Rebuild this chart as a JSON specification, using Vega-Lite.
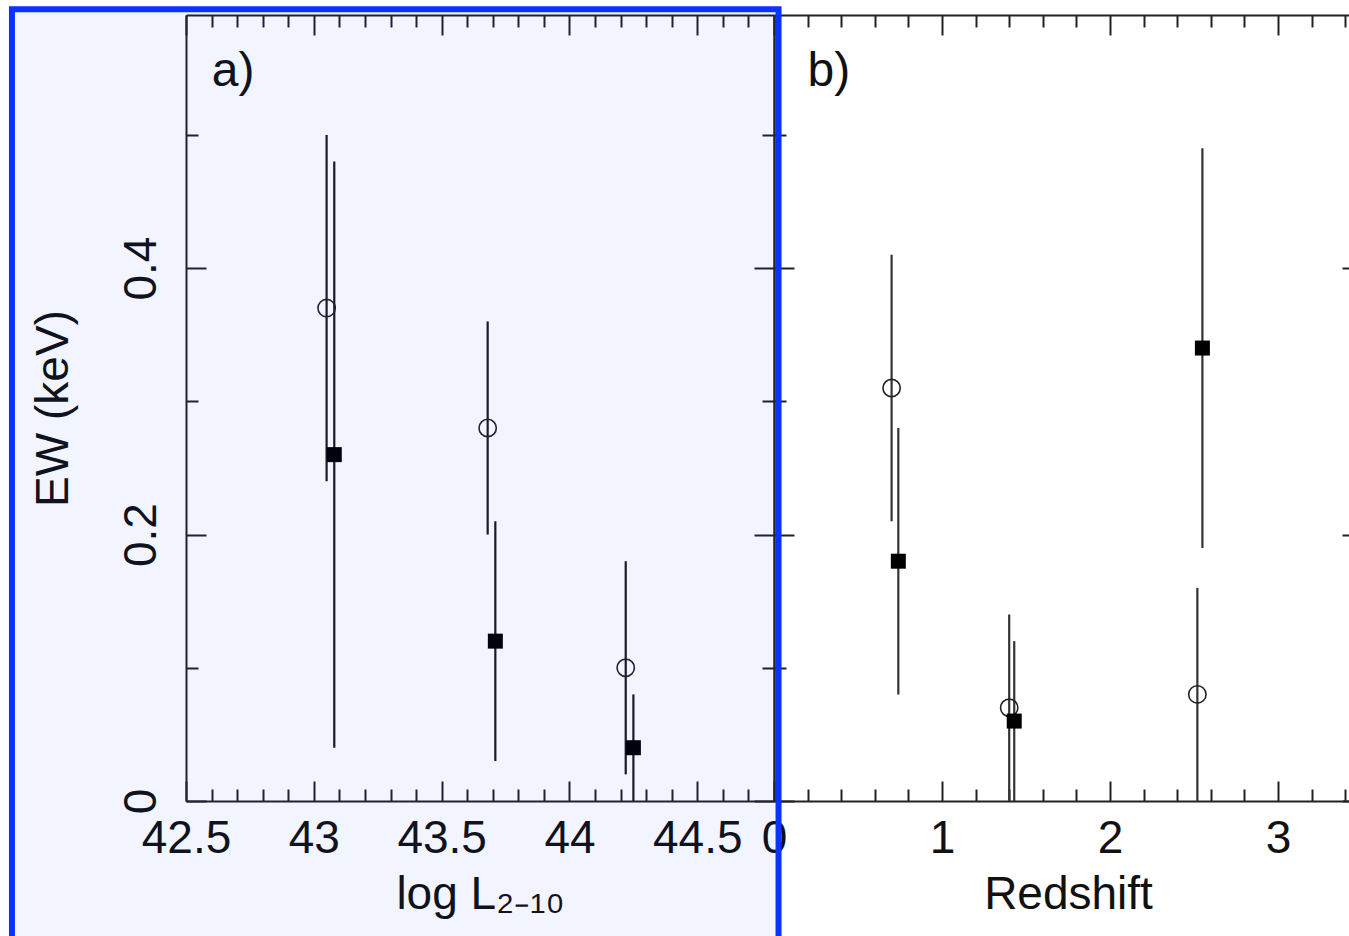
{
  "$schema": "https://vega.github.io/schema/vega-lite/v6.json",
  "padding": {"left": 8, "top": 6, "right": 0, "bottom": 0},
  "background": "white",
  "spacing": 0,
  "bounds": "flush",
  "datasets": {
    "lum": [
      {"logL": 43.05, "ew": 0.37, "lo": 0.24, "hi": 0.50, "type": "open"},
      {"logL": 43.08, "ew": 0.26, "lo": 0.04, "hi": 0.48, "type": "filled"},
      {"logL": 43.68, "ew": 0.28, "lo": 0.20, "hi": 0.36, "type": "open"},
      {"logL": 43.71, "ew": 0.12, "lo": 0.03, "hi": 0.21, "type": "filled"},
      {"logL": 44.22, "ew": 0.10, "lo": 0.02, "hi": 0.18, "type": "open"},
      {"logL": 44.25, "ew": 0.04, "lo": 0.0, "hi": 0.08, "type": "filled"}
    ],
    "red": [
      {"z": 0.70, "ew": 0.31, "lo": 0.21, "hi": 0.41, "type": "open"},
      {"z": 0.74, "ew": 0.18, "lo": 0.08, "hi": 0.28, "type": "filled"},
      {"z": 1.40, "ew": 0.07, "lo": 0.0, "hi": 0.14, "type": "open"},
      {"z": 1.43, "ew": 0.06, "lo": 0.0, "hi": 0.12, "type": "filled"},
      {"z": 2.52, "ew": 0.08, "lo": 0.0, "hi": 0.16, "type": "open"},
      {"z": 2.55, "ew": 0.34, "lo": 0.19, "hi": 0.49, "type": "filled"}
    ],
    "labelA": [{"x": 42.684, "y": 0.537, "label": "a)"}],
    "labelB": [{"x": 0.327, "y": 0.537, "label": "b)"}],
    "box": [{"x0": -4.536, "x1": 0.027, "y0": -0.12, "y1": 0.5944}]
  },
  "config": {
    "view": {"stroke": null},
    "axis": {
      "grid": false,
      "domainColor": "#222222",
      "domainWidth": 2,
      "tickColor": "#222222",
      "tickWidth": 2,
      "labelFont": "Liberation Sans",
      "labelFontSize": 46,
      "labelColor": "#111111",
      "labelFlush": false,
      "labelOverlap": false,
      "titleFont": "Liberation Sans",
      "titleFontSize": 46,
      "titleFontWeight": "normal",
      "titleColor": "#111111"
    }
  },
  "hconcat": [
    {
      "width": 588,
      "height": 786,
      "resolve": {"axis": {"x": "independent", "y": "independent"}},
      "layer": [
        {
          "data": {"name": "lum"},
          "mark": {"type": "rule", "color": "#1a1a1a", "strokeWidth": 2.2},
          "encoding": {
            "x": {
              "field": "logL", "type": "quantitative",
              "scale": {"domain": [42.5, 44.8], "nice": false, "zero": false},
              "axis": {
                "orient": "bottom",
                "values": [42.5, 42.6, 42.7, 42.8, 42.9, 43.0, 43.1, 43.2, 43.3, 43.4, 43.5, 43.6, 43.7, 43.8, 43.9, 44.0, 44.1, 44.2, 44.3, 44.4, 44.5, 44.6, 44.7],
                "labelExpr": "abs(datum.value*2 - round(datum.value*2)) < 0.001 ? format(datum.value, '~g') : ''",
                "tickSize": {"condition": {"test": "abs(datum.value*2 - round(datum.value*2)) < 0.001", "value": -20}, "value": -12},
                "labelAlign": "center",
                "labelBaseline": "alphabetic",
                "labelPadding": 71,
                "title": "log L₂₋₁₀",
                "titlePadding": 3
              }
            },
            "y": {
              "field": "lo", "type": "quantitative",
              "scale": {"domain": [0, 0.59], "nice": false, "zero": false},
              "axis": {
                "orient": "left",
                "values": [0, 0.1, 0.2, 0.3, 0.4, 0.5],
                "labelExpr": "abs(datum.value*5 - round(datum.value*5)) < 0.001 ? format(datum.value, '~g') : ''",
                "tickSize": {"condition": {"test": "abs(datum.value*5 - round(datum.value*5)) < 0.001", "value": -20}, "value": -12},
                "labelAngle": 270,
                "labelAlign": "center",
                "labelBaseline": "alphabetic",
                "labelPadding": 51,
                "title": "EW (keV)",
                "titlePadding": 33
              }
            },
            "y2": {"field": "hi"}
          }
        },
        {
          "data": {"name": "lum"},
          "transform": [{"filter": "datum.type === 'open'"}],
          "mark": {"type": "point", "shape": "circle", "filled": false, "size": 300, "stroke": "#222222", "strokeWidth": 1.6, "opacity": 1},
          "encoding": {
            "x": {
              "field": "logL", "type": "quantitative",
              "axis": {
                "orient": "top",
                "values": [42.5, 42.6, 42.7, 42.8, 42.9, 43.0, 43.1, 43.2, 43.3, 43.4, 43.5, 43.6, 43.7, 43.8, 43.9, 44.0, 44.1, 44.2, 44.3, 44.4, 44.5, 44.6, 44.7],
                "labels": false,
                "tickSize": {"condition": {"test": "abs(datum.value*2 - round(datum.value*2)) < 0.001", "value": -20}, "value": -12},
                "title": null
              }
            },
            "y": {
              "field": "ew", "type": "quantitative",
              "axis": {
                "orient": "right",
                "values": [0, 0.1, 0.2, 0.3, 0.4, 0.5],
                "labels": false,
                "tickSize": {"condition": {"test": "abs(datum.value*5 - round(datum.value*5)) < 0.001", "value": -20}, "value": -12},
                "title": null
              }
            }
          }
        },
        {
          "data": {"name": "lum"},
          "transform": [{"filter": "datum.type === 'filled'"}],
          "mark": {"type": "point", "shape": "square", "filled": true, "size": 225, "color": "#000000", "opacity": 1},
          "encoding": {
            "x": {"field": "logL", "type": "quantitative", "axis": null},
            "y": {"field": "ew", "type": "quantitative", "axis": null}
          }
        },
        {
          "data": {"name": "labelA"},
          "mark": {"type": "text", "font": "Liberation Sans", "fontSize": 48, "align": "center", "baseline": "alphabetic", "color": "#111111"},
          "encoding": {
            "x": {"field": "x", "type": "quantitative", "axis": null},
            "y": {"field": "y", "type": "quantitative", "axis": null},
            "text": {"field": "label"}
          }
        }
      ]
    },
    {
      "width": 588,
      "height": 786,
      "resolve": {"axis": {"x": "independent", "y": "independent"}},
      "layer": [
        {
          "data": {"name": "red"},
          "mark": {"type": "rule", "color": "#333333", "strokeWidth": 2.2},
          "encoding": {
            "x": {
              "field": "z", "type": "quantitative",
              "scale": {"domain": [0, 3.5], "nice": false, "zero": false},
              "axis": {
                "orient": "bottom",
                "values": [0, 0.2, 0.4, 0.6, 0.8, 1.0, 1.2, 1.4, 1.6, 1.8, 2.0, 2.2, 2.4, 2.6, 2.8, 3.0, 3.2, 3.4],
                "labelExpr": "abs(datum.value - round(datum.value)) < 0.001 ? format(datum.value, '~g') : ''",
                "tickSize": {"condition": {"test": "abs(datum.value - round(datum.value)) < 0.001", "value": -20}, "value": -12},
                "labelAlign": "center",
                "labelBaseline": "alphabetic",
                "labelPadding": 71,
                "title": "Redshift",
                "titlePadding": 3
              }
            },
            "y": {
              "field": "lo", "type": "quantitative",
              "scale": {"domain": [0, 0.59], "nice": false, "zero": false},
              "axis": {
                "orient": "left",
                "values": [0, 0.1, 0.2, 0.3, 0.4, 0.5],
                "labels": false,
                "tickSize": {"condition": {"test": "abs(datum.value*5 - round(datum.value*5)) < 0.001", "value": -20}, "value": -12},
                "title": null
              }
            },
            "y2": {"field": "hi"}
          }
        },
        {
          "data": {"name": "red"},
          "transform": [{"filter": "datum.type === 'open'"}],
          "mark": {"type": "point", "shape": "circle", "filled": false, "size": 300, "stroke": "#222222", "strokeWidth": 1.6, "opacity": 1},
          "encoding": {
            "x": {
              "field": "z", "type": "quantitative",
              "axis": {
                "orient": "top",
                "values": [0, 0.2, 0.4, 0.6, 0.8, 1.0, 1.2, 1.4, 1.6, 1.8, 2.0, 2.2, 2.4, 2.6, 2.8, 3.0, 3.2, 3.4],
                "labels": false,
                "tickSize": {"condition": {"test": "abs(datum.value - round(datum.value)) < 0.001", "value": -20}, "value": -12},
                "title": null
              }
            },
            "y": {
              "field": "ew", "type": "quantitative",
              "axis": {
                "orient": "right",
                "values": [0, 0.1, 0.2, 0.3, 0.4, 0.5],
                "labels": false,
                "tickSize": {"condition": {"test": "abs(datum.value*5 - round(datum.value*5)) < 0.001", "value": -20}, "value": -12},
                "title": null
              }
            }
          }
        },
        {
          "data": {"name": "red"},
          "transform": [{"filter": "datum.type === 'filled'"}],
          "mark": {"type": "point", "shape": "square", "filled": true, "size": 225, "color": "#000000", "opacity": 1},
          "encoding": {
            "x": {"field": "z", "type": "quantitative", "axis": null},
            "y": {"field": "ew", "type": "quantitative", "axis": null}
          }
        },
        {
          "data": {"name": "labelB"},
          "mark": {"type": "text", "font": "Liberation Sans", "fontSize": 48, "align": "center", "baseline": "alphabetic", "color": "#111111"},
          "encoding": {
            "x": {"field": "x", "type": "quantitative", "axis": null},
            "y": {"field": "y", "type": "quantitative", "axis": null},
            "text": {"field": "label"}
          }
        },
        {
          "data": {"name": "box"},
          "mark": {"type": "rect", "clip": false, "fill": "#0033ff", "fillOpacity": 0.05, "stroke": "#0b32ff", "strokeWidth": 6},
          "encoding": {
            "x": {"field": "x0", "type": "quantitative", "axis": null},
            "x2": {"field": "x1"},
            "y": {"field": "y0", "type": "quantitative", "axis": null},
            "y2": {"field": "y1"}
          }
        }
      ]
    }
  ]
}
